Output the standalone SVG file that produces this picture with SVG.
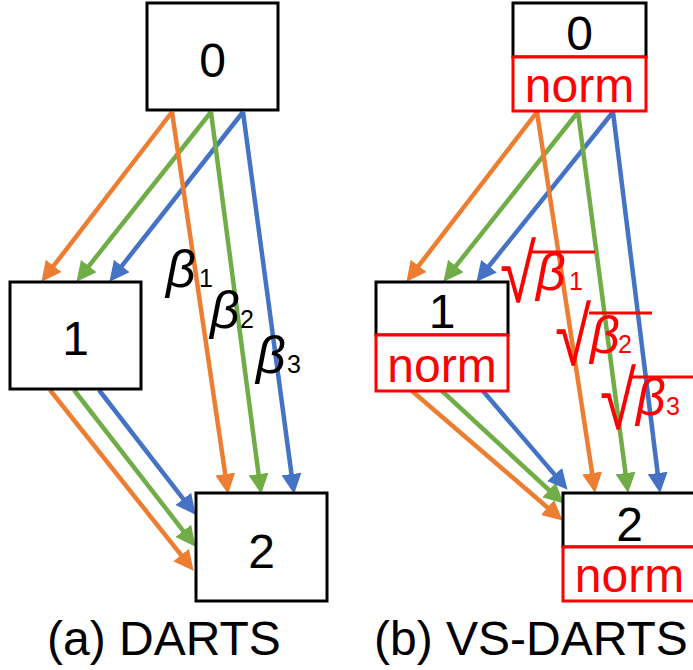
<svg xmlns="http://www.w3.org/2000/svg" width="693" height="670" viewBox="0 0 693 670">
  <style>
    .box { fill: #fff; stroke: #000; stroke-width: 3; }
    .nbox { fill: #fff; stroke: #f00; stroke-width: 3; }
    .lbl { font-family: "Liberation Sans", Arial, sans-serif; font-size: 48px; text-anchor: middle; fill: #000; }
    .norm { font-family: "Liberation Sans", Arial, sans-serif; font-size: 48px; text-anchor: middle; fill: #f00; }
    .cap { font-family: "Liberation Sans", Arial, sans-serif; font-size: 48px; fill: #000; }
    .beta { font-family: "Liberation Sans", Arial, sans-serif; font-size: 52px; font-style: italic; }
    .sub { font-size: 25px; font-style: normal; }
    .rad { font-family: "Liberation Sans", Arial, sans-serif; font-size: 82px; fill: #f00; }
    .bar { stroke: #f00; stroke-width: 3; }
    .e { fill: none; stroke-width: 4.5; }
    .o { stroke: #ED7D31; marker-end: url(#ho); }
    .g { stroke: #70AD47; marker-end: url(#hg); }
    .b { stroke: #4472C4; marker-end: url(#hb); }
  </style>
  <defs>
    <marker id="ho" markerUnits="userSpaceOnUse" markerWidth="20" markerHeight="20" refX="1" refY="9" orient="auto" viewBox="0 0 18 18"><path d="M0,0 L18,9 L0,18 z" fill="#ED7D31"/></marker>
    <marker id="hg" markerUnits="userSpaceOnUse" markerWidth="20" markerHeight="20" refX="1" refY="9" orient="auto" viewBox="0 0 18 18"><path d="M0,0 L18,9 L0,18 z" fill="#70AD47"/></marker>
    <marker id="hb" markerUnits="userSpaceOnUse" markerWidth="20" markerHeight="20" refX="1" refY="9" orient="auto" viewBox="0 0 18 18"><path d="M0,0 L18,9 L0,18 z" fill="#4472C4"/></marker>
  </defs>

  <g id="connectors">
    <!-- (a) DARTS -->
    <line class="e o" x1="172" y1="112" x2="52.97" y2="266.73"/>
    <line class="e g" x1="211" y1="112" x2="88.18" y2="266.90"/>
    <line class="e b" x1="243" y1="112" x2="121.13" y2="266.86"/>
    <line class="e o" x1="172" y1="112" x2="225.38" y2="475.19"/>
    <line class="e g" x1="211" y1="112" x2="258.66" y2="475.15"/>
    <line class="e b" x1="243" y1="112" x2="291.61" y2="475.16"/>
    <line class="e o" x1="50" y1="390" x2="181.8" y2="555.9"/>
    <line class="e g" x1="74" y1="390" x2="183.97" y2="531.78"/>
    <line class="e b" x1="99" y1="390" x2="183.98" y2="499.77"/>
    <!-- (b) VS-DARTS -->
    <line class="e o" x1="537" y1="112" x2="417.97" y2="266.73"/>
    <line class="e g" x1="578" y1="112" x2="455.18" y2="266.90"/>
    <line class="e b" x1="613" y1="112" x2="488.29" y2="266.98"/>
    <line class="e o" x1="537" y1="112" x2="592.28" y2="474.21"/>
    <line class="e g" x1="578" y1="112" x2="625.65" y2="474.15"/>
    <line class="e b" x1="613" y1="112" x2="657.79" y2="474.14"/>
    <line class="e o" x1="412" y1="391" x2="548.35" y2="508.26"/>
    <line class="e g" x1="442" y1="391" x2="549.79" y2="490.77"/>
    <line class="e b" x1="483" y1="391" x2="555.29" y2="475.34"/>
  </g>

  <!-- (a) DARTS nodes -->
  <g id="a-node0">
    <rect class="box" x="147" y="3" width="131" height="107"/>
    <text class="lbl" x="212.5" y="77">0</text>
  </g>
  <g id="a-node1">
    <rect class="box" x="10" y="282" width="131" height="107"/>
    <text class="lbl" x="75.5" y="355">1</text>
  </g>
  <g id="a-node2">
    <rect class="box" x="196" y="493" width="131" height="108"/>
    <text class="lbl" x="261.5" y="568">2</text>
  </g>

  <!-- (b) VS-DARTS nodes -->
  <g id="b-node0">
    <rect class="box" x="513" y="3" width="133" height="54"/>
    <rect class="nbox" x="513" y="57" width="133" height="54"/>
    <text class="lbl" x="579.5" y="50">0</text>
    <text class="norm" x="579.5" y="102">norm</text>
  </g>
  <g id="b-node1">
    <rect class="box" x="376" y="282" width="132" height="53"/>
    <rect class="nbox" x="376" y="335" width="132" height="56"/>
    <text class="lbl" x="442" y="328">1</text>
    <text class="norm" x="442" y="382">norm</text>
  </g>
  <g id="b-node2">
    <rect class="box" x="563" y="493" width="133" height="54"/>
    <rect class="nbox" x="563" y="547" width="133" height="54"/>
    <text class="lbl" x="629.5" y="541">2</text>
    <text class="norm" x="629.5" y="592">norm</text>
  </g>

  <!-- edge weights -->
  <g id="weights-a" fill="#000">
    <text class="beta" x="166" y="287">β<tspan class="sub" x="199">1</tspan></text>
    <text class="beta" x="210" y="328">β<tspan class="sub" x="240">2</tspan></text>
    <text class="beta" x="256" y="373">β<tspan class="sub" x="287">3</tspan></text>
  </g>
  <g id="weights-b" fill="#f00">
    <text class="rad" transform="translate(500,302) scale(0.8,1)">√</text>
    <line class="bar" x1="532" y1="252" x2="595" y2="252"/>
    <text class="beta" x="536" y="290">β<tspan class="sub" x="569">1</tspan></text>
    <text class="rad" transform="translate(555,365) scale(0.8,1)">√</text>
    <line class="bar" x1="589" y1="313" x2="652" y2="313"/>
    <text class="beta" x="590" y="353">β<tspan class="sub" x="618">2</tspan></text>
    <text class="rad" transform="translate(600,429) scale(0.8,1)">√</text>
    <line class="bar" x1="632" y1="377" x2="693" y2="377"/>
    <text class="beta" x="636" y="415">β<tspan class="sub" x="666">3</tspan></text>
  </g>

  <text class="cap" x="47" y="655">(a) DARTS</text>
  <text class="cap" x="374" y="655">(b) VS-DARTS</text>
</svg>
